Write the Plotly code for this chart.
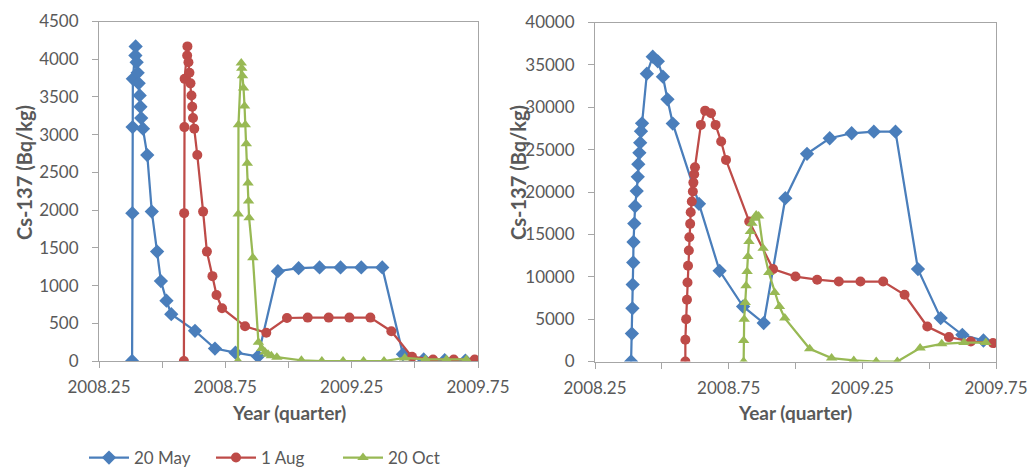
import plotly.graph_objects as go

# ---------------- data (decimal year, Cs-137 Bq/kg) ----------------
# Left panel
left_may_x = [2008.381, 2008.382, 2008.383, 2008.384, 2008.395, 2008.394, 2008.399, 2008.403, 2008.407,
              2008.411, 2008.414, 2008.417, 2008.424, 2008.441, 2008.459, 2008.480, 2008.495, 2008.517,
              2008.536, 2008.630, 2008.709, 2008.790, 2008.879, 2008.958, 2009.040, 2009.123, 2009.206,
              2009.288, 2009.371, 2009.453, 2009.535, 2009.618, 2009.700]
left_may_y = [0, 1960, 3100, 3740, 4170, 4050, 3960, 3820, 3680, 3520, 3370, 3220, 3080, 2730, 1980, 1450,
              1060, 800, 620, 400, 165, 110, 60, 1190, 1230, 1240, 1240, 1240, 1240, 90, 20, 10, 5]

left_aug_x = [2008.586, 2008.587, 2008.588, 2008.589, 2008.600, 2008.599, 2008.604, 2008.608, 2008.612,
              2008.616, 2008.619, 2008.622, 2008.627, 2008.639, 2008.662, 2008.677, 2008.699, 2008.715,
              2008.737, 2008.828, 2008.912, 2008.994, 2009.076, 2009.159, 2009.241, 2009.324, 2009.407,
              2009.489, 2009.572, 2009.654, 2009.737]
left_aug_y = [0, 1960, 3100, 3740, 4170, 4050, 3960, 3820, 3680, 3520, 3370, 3220, 3080, 2730, 1980, 1450,
              1125, 875, 700, 460, 375, 570, 575, 575, 575, 575, 395, 55, 20, 20, 20]

left_oct_x = [2008.800, 2008.801, 2008.802, 2008.813, 2008.815, 2008.818, 2008.822, 2008.826, 2008.829,
              2008.833, 2008.837, 2008.840, 2008.842, 2008.844, 2008.859, 2008.881, 2008.894, 2008.907,
              2008.919, 2008.932, 2008.954, 2009.051, 2009.132, 2009.216, 2009.297, 2009.378, 2009.460,
              2009.542, 2009.625, 2009.704]
left_oct_y = [0, 1950, 3130, 3950, 3880, 3780, 3620, 3380, 3130, 2880, 2620, 2360, 2120, 1900, 1370, 250,
              165, 120, 90, 70, 50, 10, 0, 0, 0, 0, 40, 20, 20, 20]

# Right panel
right_may_x = [2008.385, 2008.388, 2008.390, 2008.391, 2008.393, 2008.394, 2008.397, 2008.400, 2008.406,
               2008.410, 2008.412, 2008.416, 2008.419, 2008.422, 2008.426, 2008.444, 2008.466, 2008.485,
               2008.504, 2008.521, 2008.541, 2008.639, 2008.716, 2008.804, 2008.881, 2008.962, 2009.043,
               2009.128, 2009.210, 2009.293, 2009.374, 2009.458, 2009.543, 2009.624, 2009.703]
right_may_y = [0, 3300, 6270, 9080, 11680, 14100, 16280, 18320, 20110, 21790, 23280, 24620, 25820, 27170,
               28100, 33960, 35970, 35420, 33610, 30940, 28070, 18600, 10700, 6490, 4530, 19270, 24500,
               26340, 26930, 27120, 27120, 10900, 5120, 3150, 2480]

right_aug_x = [2008.588, 2008.588, 2008.591, 2008.594, 2008.596, 2008.598, 2008.601, 2008.603, 2008.606,
               2008.608, 2008.612, 2008.616, 2008.618, 2008.621, 2008.624, 2008.646, 2008.662, 2008.684,
               2008.701, 2008.722, 2008.740, 2008.827, 2008.916, 2009.000, 2009.081, 2009.162, 2009.243,
               2009.328, 2009.408, 2009.493, 2009.574, 2009.656, 2009.739]
right_aug_y = [0, 2560, 5000, 7280, 9320, 11290, 13090, 14670, 16240, 17620, 18870, 20050, 21110, 22100,
               22920, 27920, 29600, 29290, 27920, 25950, 23790, 16510, 10900, 10020, 9650, 9430, 9430,
               9430, 7870, 4130, 2880, 2360, 2170]

right_oct_x = [2008.806, 2008.806, 2008.808, 2008.812, 2008.815, 2008.819, 2008.822, 2008.826, 2008.831,
               2008.837, 2008.846, 2008.853, 2008.862, 2008.879, 2008.900, 2008.922, 2008.940, 2008.960,
               2009.053, 2009.135, 2009.218, 2009.302, 2009.381, 2009.466, 2009.547, 2009.630, 2009.712]
right_oct_y = [0, 2480, 5000, 6960, 8930, 10610, 12380, 14150, 15330, 16320, 16910, 17300, 17180, 13370,
               10500, 8140, 6490, 5120, 1500, 400, 120, 0, 0, 1580, 2090, 2240, 2240]

series_names = ["20 May", "1 Aug", "20 Oct"]
x_tickvals = [2008.25, 2008.75, 2009.25, 2009.75]
x_ticktext = ["2008.25", "2008.75", "2009.25", "2009.75"]
y_title = "Cs-137 (Bq/kg)"
x_title = "Year (quarter)"

# ---------------- style ----------------
FONT = "Lato, 'Open Sans', sans-serif"
TXT = "#595959"
AX = "#A6A6A6"
BLUE, RED, GREEN = "#4A7EBB", "#BE4B48", "#98B954"
colors = [BLUE, RED, GREEN]
symbols = ["diamond", "circle", "triangle-up"]
msizes = [11, 10, 10]

fig = go.Figure()
panels = [
    ([left_may_x, left_aug_x, left_oct_x], [left_may_y, left_aug_y, left_oct_y], "x", "y"),
    ([right_may_x, right_aug_x, right_oct_x], [right_may_y, right_aug_y, right_oct_y], "x2", "y2"),
]
for p, (xs, ys, xa, ya) in enumerate(panels):
    for i in range(3):
        fig.add_trace(go.Scatter(
            x=xs[i], y=ys[i], xaxis=xa, yaxis=ya, mode="lines+markers",
            name=series_names[i], showlegend=(p == 0),
            line=dict(color=colors[i], width=2.25),
            marker=dict(symbol=symbols[i], size=msizes[i], color=colors[i]),
        ))

W, H = 1032, 468
def px_x(v):
    return v / W
def px_y(v):
    return 1 - v / H

common_x = dict(range=[2008.25, 2009.75], tickvals=x_tickvals, ticktext=x_ticktext,
                showline=True, linecolor=AX, linewidth=1, mirror=True,
                ticks="outside", ticklen=6, tickcolor=AX,
                minor=dict(tickvals=[2008.5, 2009.0, 2009.5], ticks="outside", ticklen=6, tickcolor=AX),
                showgrid=False, zeroline=False, ticklabelstandoff=5, automargin=False,
                tickfont=dict(family=FONT, size=17, color=TXT))
common_y = dict(showline=True, linecolor=AX, linewidth=1, mirror=True,
                ticks="outside", ticklen=6, tickcolor=AX, showgrid=False, zeroline=False,
                ticklabelstandoff=10, automargin=False, tickformat="d",
                tickfont=dict(family=FONT, size=17, color=TXT))

fig.update_layout(
    width=W, height=H, paper_bgcolor="white", plot_bgcolor="white",
    margin=dict(l=0, r=0, t=0, b=0, autoexpand=False),
    xaxis=dict(domain=[px_x(99), px_x(478)], anchor="y", **common_x),
    yaxis=dict(domain=[px_y(361), px_y(21.5)], anchor="x", range=[0, 4500], dtick=500, **common_y),
    xaxis2=dict(domain=[px_x(595), px_x(996)], anchor="y2", **common_x),
    yaxis2=dict(domain=[px_y(361.5), px_y(22.5)], anchor="x2", range=[0, 40000], dtick=5000, **common_y),
    legend=dict(orientation="h", x=px_x(84), y=px_y(458), xanchor="left", yanchor="middle",
                font=dict(family=FONT, size=17, color=TXT), itemwidth=40,
                entrywidth=72, entrywidthmode="pixels", bgcolor="rgba(0,0,0,0)"),
    font=dict(family=FONT, color=TXT),
)

ann = []
for cx in (289, 795):
    ann.append(dict(text="<b>" + x_title + "</b>", x=px_x(cx), y=px_y(412), xref="paper", yref="paper",
                    xanchor="center", yanchor="middle",
                    showarrow=False, font=dict(family=FONT, size=19, color=TXT)))
for cx in (24, 518):
    ann.append(dict(text="<b>" + y_title + "</b>", x=px_x(cx), y=px_y(173), xref="paper", yref="paper",
                    xanchor="center", yanchor="middle",
                    showarrow=False, textangle=-90, font=dict(family=FONT, size=20, color=TXT)))
fig.update_layout(annotations=ann)

fig.write_html("out.html", config={"displayModeBar": False},
               post_script="document.body.style.margin='0px';document.body.style.overflow='hidden';")
